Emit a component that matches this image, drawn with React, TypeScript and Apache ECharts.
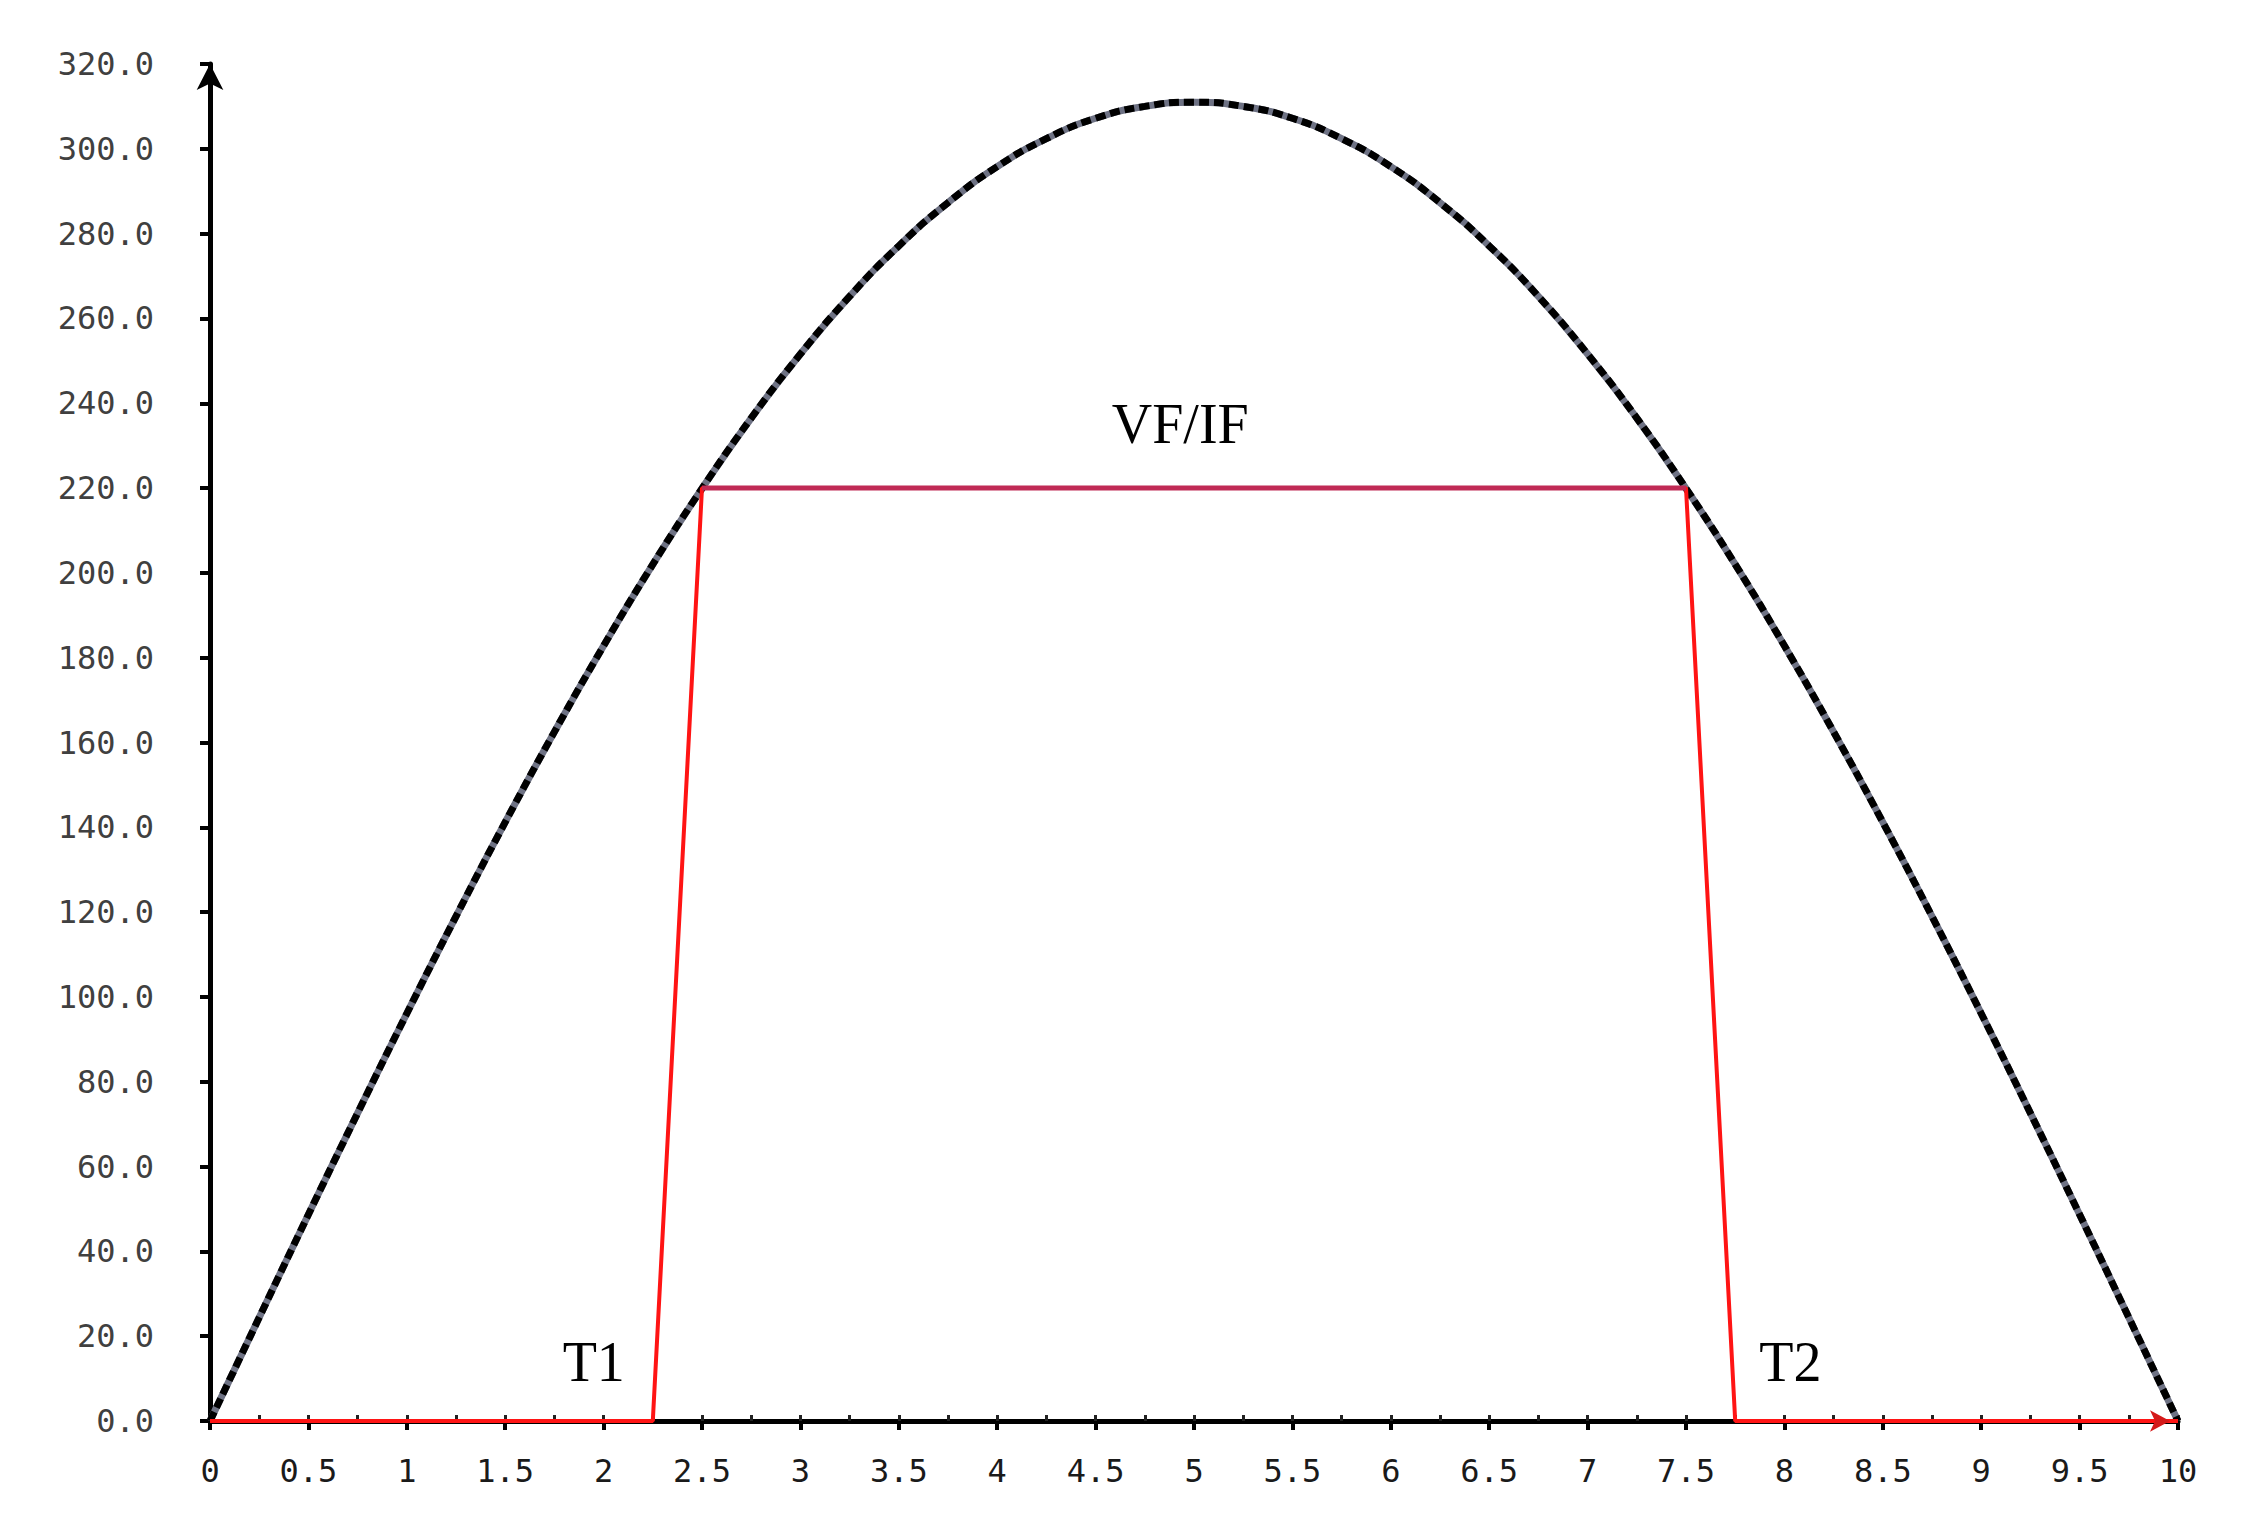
import React, { useEffect, useRef } from "react";
import * as echarts from "echarts";

const curveX = [0, 0.25, 0.5, 0.75, 1, 1.25, 1.5, 1.75, 2, 2.25, 2.5, 2.75, 3, 3.25, 3.5, 3.75, 4, 4.25, 4.5, 4.75, 5, 5.25, 5.5, 5.75, 6, 6.25, 6.5, 6.75, 7, 7.25, 7.5, 7.75, 8, 8.25, 8.5, 8.75, 9, 9.25, 9.5, 9.75, 10];
const curveY = [0, 24.4, 48.7, 72.6, 96.1, 119.0, 141.2, 162.5, 182.8, 202.0, 219.9, 236.5, 251.6, 265.2, 277.1, 287.3, 295.8, 302.4, 307.2, 310.0, 311.0, 310.0, 307.2, 302.4, 295.8, 287.3, 277.1, 265.2, 251.6, 236.5, 219.9, 202.0, 182.8, 162.5, 141.2, 119.0, 96.1, 72.6, 48.7, 24.4, 0];

const trapX = [0, 2.25, 2.5, 7.5, 7.75, 10];
const trapY = [0, 0, 220, 220, 0, 0];

const topX = [2.5, 7.5];
const topY = [220, 220];

const annX = [4.93, 1.95, 8.03];
const annY = [235, 14, 14];
const annText = ["VF/IF", "T1", "T2"];

const yMin = 0;
const yMax = 320;
const yStep = 20;
const xMin = 0;
const xMax = 10;
const xStep = 0.5;
const xMinorStep = 0.25;

const pairs = (xs: number[], ys: number[]) => xs.map((x, i) => [x, ys[i]]);

export default function App() {
  const ref = useRef<HTMLDivElement>(null);
  useEffect(() => {
    if (!ref.current) return;
    const chart = echarts.init(ref.current, null, { renderer: "svg" });
    const tickFont = {
      fontFamily: "DejaVu Sans Mono",
      fontSize: 32,
    };
    const trapData = trapX.map((x, i) =>
      i === trapX.length - 1
        ? { value: [x, trapY[i]], symbol: "arrow", symbolRotate: -90, symbolSize: [16, 20], symbolOffset: [-8, 0] }
        : { value: [x, trapY[i]] }
    );
    chart.setOption({
      animation: false,
      backgroundColor: "#ffffff",
      grid: { left: 210, right: 75, top: 64, bottom: 100 },
      xAxis: [
        {
          type: "value",
          min: xMin,
          max: xMax,
          interval: xStep,
          axisLine: {
            show: true,
            lineStyle: { color: "#000", width: 5 },
          },
          axisTick: { show: true, inside: false, length: 9, lineStyle: { color: "#000", width: 4 } },
          axisLabel: {
            ...tickFont,
            color: "#1a1a1a",
            margin: 34,
          },
          splitLine: { show: false },
        },
        {
          type: "value",
          min: xMin,
          max: xMax,
          interval: xMinorStep,
          position: "bottom",
          axisLine: { show: false },
          axisTick: { show: true, inside: true, length: 6, lineStyle: { color: "#222", width: 3 } },
          axisLabel: { show: false },
          splitLine: { show: false },
        },
      ],
      yAxis: {
        type: "value",
        min: yMin,
        max: yMax,
        interval: yStep,
        axisLine: {
          show: true,
          lineStyle: { color: "#000", width: 5 },
          symbol: ["none", "arrow"],
          symbolSize: [20, 26],
        },
        axisTick: { show: true, inside: false, length: 10, lineStyle: { color: "#000", width: 4 } },
        axisLabel: {
          ...tickFont,
          color: "#404040",
          margin: 56,
          formatter: (v: number) => v.toFixed(1),
        },
        splitLine: { show: false },
      },
      series: [
        {
          type: "line",
          data: pairs(curveX, curveY),
          smooth: true,
          showSymbol: false,
          symbol: "none",
          lineStyle: { color: "#6e7284", width: 7 },
          z: 3,
        },
        {
          type: "line",
          data: pairs(curveX, curveY),
          smooth: true,
          showSymbol: false,
          symbol: "none",
          lineStyle: { color: "#000000", width: 7, type: [10, 5] },
          z: 4,
        },
        {
          type: "line",
          data: trapData,
          showSymbol: true,
          symbol: "none",
          itemStyle: { color: "#d41a1a" },
          lineStyle: { color: "#ff1414", width: 4 },
          z: 5,
        },
        {
          type: "line",
          data: pairs(topX, topY),
          showSymbol: false,
          symbol: "none",
          lineStyle: { color: "#c02a55", width: 5 },
          z: 6,
        },
        {
          type: "scatter",
          data: annX.map((x, i) => ({ value: [x, annY[i]], name: annText[i] })),
          symbolSize: 0,
          silent: true,
          itemStyle: { opacity: 1 },
          label: {
            show: true,
            position: "inside",
            formatter: (p: any) => p.name,
            fontFamily: "Liberation Serif",
            fontSize: 56,
            color: "#000000",
            opacity: 1,
            textBorderWidth: 0,
          },
          z: 7,
        },
      ],
    });
    return () => chart.dispose();
  }, []);
  return (
    <div
      ref={ref}
      style={{ position: "fixed", left: 0, top: 0, width: 2253, height: 1521 }}
    />
  );
}
